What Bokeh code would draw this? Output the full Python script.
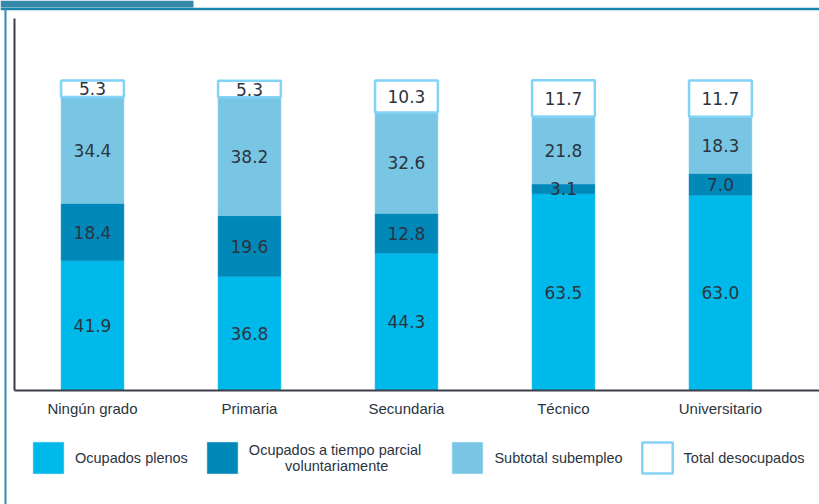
import numpy as np
from bokeh.plotting import figure
from bokeh.models import (ColumnDataSource, Range1d, FixedTicker, Legend, LegendItem,
                          BoxAnnotation, Span)
from bokeh.core.properties import value
from bokeh.embed import file_html
from bokeh.resources import INLINE

categories = ["Ningún grado", "Primaria", "Secundaria", "Técnico", "Universitario"]
plenos = [41.9, 36.8, 44.3, 63.5, 63.0]
parcial = [18.4, 19.6, 12.8, 3.1, 7.0]
subempleo = [34.4, 38.2, 32.6, 21.8, 18.3]
desocupados = [5.3, 5.3, 10.3, 11.7, 11.7]

NB = "\u00a0"
series_names = ["Ocupados plenos",
                "Ocupados a tiempo parcial" + NB * 3 + "\n" + NB * 9 + "voluntariamente",
                "Subtotal subempleo", "Total desocupados"]
fill_colors = ["#00b9eb", "#0088b9", "#79c6e4", "#ffffff"]
line_colors = ["#00b9eb", "#0088b9", "#79c6e4", "#82d3f5"]
line_widths = [0.5, 0.5, 0.5, 2.5]

FONT = "Liberation Sans"
TXT = "#2c3440"
AXIS = "#3a3f4b"

x = np.arange(len(categories))
p = figure(width=819, height=504, output_backend="svg", toolbar_location=None,
           x_range=Range1d(-0.586, 4.631), y_range=Range1d(-36.77, 125.8),
           min_border_left=0, min_border_right=0, min_border_top=0, min_border_bottom=0)
p.grid.visible = False
p.outline_line_color = None
p.yaxis.visible = False
p.background_fill_color = "white"

xa = p.xaxis[0]
xa.fixed_location = 0
xa.ticker = FixedTicker(ticks=list(x))
xa.major_label_overrides = {int(i): c for i, c in zip(x, categories)}
xa.major_tick_line_color = None
xa.minor_tick_line_color = None
xa.major_tick_out = 0
xa.major_tick_in = 0
xa.major_label_standoff = 9
xa.axis_line_color = AXIS
xa.axis_line_width = 2
xa.bounds = (-0.497, 4.631)
xa.major_label_text_font = FONT
xa.major_label_text_font_size = "15px"
xa.major_label_text_color = TXT

series = [plenos, parcial, subempleo, desocupados]
bottom = np.zeros(len(categories))
renderers = []
lab_x, lab_y, lab_t = [], [], []
for vals, fc, lc, lw in zip(series, fill_colors, line_colors, line_widths):
    vals = np.array(vals)
    top = bottom + vals
    src = ColumnDataSource(dict(x=x, bottom=bottom, top=top))
    r = p.vbar(x="x", bottom="bottom", top="top", width=0.40, source=src,
               fill_color=fc, line_color=lc, line_width=lw)
    renderers.append(r)
    for xi, b, v in zip(x, bottom, vals):
        lab_x.append(xi)
        lab_y.append(b + v / 2)
        lab_t.append(f"{v:.1f}")
    bottom = top

lsrc = ColumnDataSource(dict(x=lab_x, y=lab_y, t=lab_t))
p.text(x="x", y="y", text="t", source=lsrc, text_align="center", text_baseline="middle",
       text_font=value("DejaVu Sans"), text_font_size="17px", text_color=TXT)

# frame decorations
p.add_layout(BoxAnnotation(left=0, right=193, left_units="screen", right_units="screen",
                           bottom=123.55, fill_color="#3589a8", fill_alpha=1, line_color=None))
p.add_layout(Span(location=123.06, dimension="width", line_color="#1a86ad", line_width=2.5))
p.add_layout(BoxAnnotation(left=4, right=6, left_units="screen", right_units="screen",
                           top=123.06, fill_color="#2e8caf", fill_alpha=1, line_color=None))
# y axis line
p.add_layout(BoxAnnotation(left=13, right=15, left_units="screen", right_units="screen",
                           bottom=0, top=120, fill_color=AXIS, fill_alpha=1, line_color=None))

items = [LegendItem(label=n, renderers=[r]) for n, r in zip(series_names, renderers)]
legend = Legend(items=items, orientation="horizontal", location=(29, 27),
                glyph_width=38, glyph_height=39, label_standoff=8, spacing=15,
                label_text_font=FONT, label_text_font_size="14.5px", label_text_color=TXT,
                margin=0, padding=10, border_line_color=None, background_fill_alpha=0)
p.add_layout(legend, "center")

open("out.html", "w").write(file_html(p, INLINE))
